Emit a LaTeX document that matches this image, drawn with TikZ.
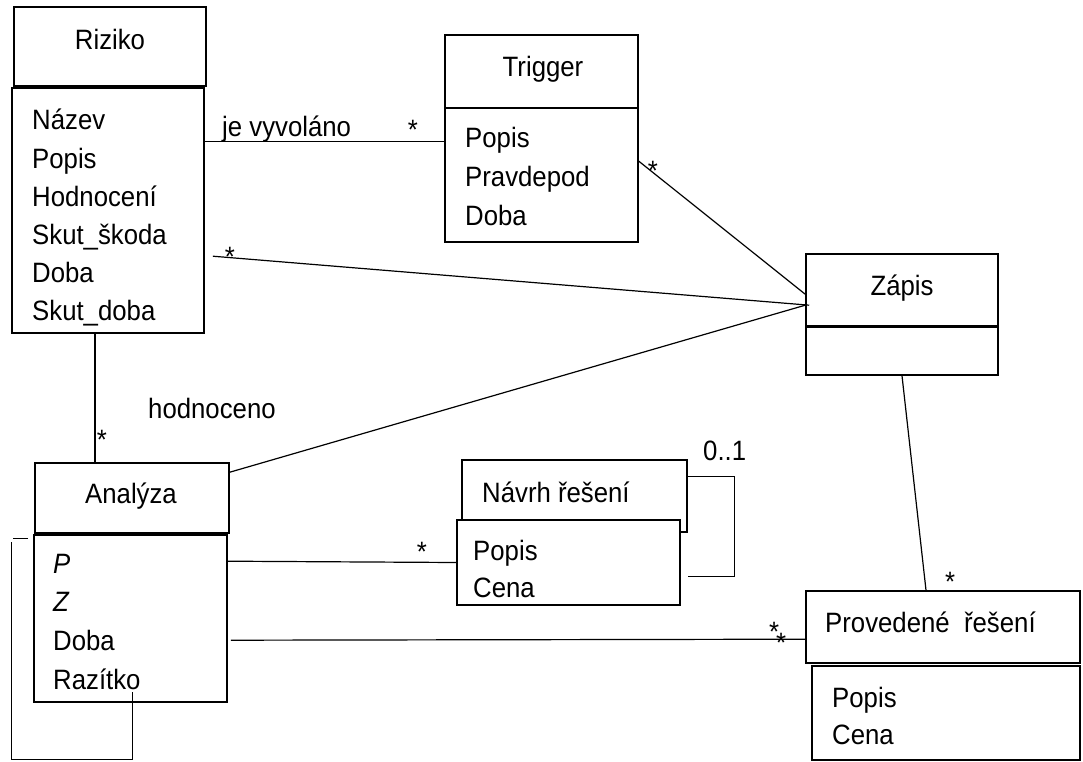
\documentclass[tikz,border=0pt]{standalone}
\usepackage{fontspec}
\setmainfont{Liberation Sans}[FakeStretch=0.92]

\begin{document}
\begin{tikzpicture}[x=1pt, y=-1pt,
    box/.style={draw, line width=1.6pt, fill=white, inner sep=0pt},
    txt/.style={font=\fontsize{28}{30}\selectfont, inner sep=0pt},
    attr/.style={txt, anchor=base west},
    mult/.style={txt, anchor=base},
    conn/.style={line width=1.2pt}]
\useasboundingbox (0,0) rectangle (1083,762);
% classes
\node[box, minimum width=192, minimum height=79] (rizH) at (110,46.5) {};
\node[box, minimum width=192, minimum height=245] (rizA) at (108,210.5) {};
\node[box, minimum width=193, minimum height=73] (trgH) at (541.5,71.5) {};
\node[box, minimum width=193, minimum height=134] (trgA) at (541.5,175) {};
\node[box, minimum width=192, minimum height=73] (zapH) at (902,290.5) {};
\node[box, minimum width=192, minimum height=48] (zapA) at (902,351) {};
\draw[line width=2.6pt] (zapA.north west) -- (zapA.north east);
\node[box, minimum width=194, minimum height=70] (anaH) at (132,498) {};
\node[box, minimum width=193, minimum height=167] (anaA) at (130.5,618.5) {};
\node[box, minimum width=225, minimum height=72] (navH) at (574.5,496) {};
\node[box, minimum width=223, minimum height=85] (navA) at (568.5,562.5) {};
\node[box, minimum width=274, minimum height=72] (provH) at (943,627) {};
\node[box, minimum width=268, minimum height=94] (provA) at (946,713) {};
% names
\node[mult] (rizT) at (110,50) {Riziko};
\node[mult] (trgT) at (543,77) {Trigger};
\node[mult] (zapT) at (902,295) {Zápis};
\node[mult] (anaT) at (131,503) {Analýza};
\node[attr] (navT) at (482,502) {Návrh řešení};
\node[attr] (provT) at (825,632) {Provedené\ \ řešení};
% attributes
\foreach \a [count=\i from 0] in {Název,Popis,Hodnocení,Skut\_škoda,Doba,Skut\_doba}
  \node[attr] (rizL\i) at (32,{130+38*\i}) {\a};
\foreach \a [count=\i from 0] in {Popis,Pravdepod,Doba}
  \node[attr] (trgL\i) at (465,{148+38.5*\i}) {\a};
\foreach \a [count=\i from 0] in {\textit{P},\textit{Z},Doba,Razítko}
  \node[attr] (anaL\i) at (53,{573+38.7*\i}) {\a};
\foreach \a [count=\i from 0] in {Popis,Cena}
  \node[attr] (navL\i) at (473,{560+37*\i}) {\a};
\foreach \a [count=\i from 0] in {Popis,Cena}
  \node[attr] (provL\i) at (832,{707+37*\i}) {\a};
% associations
\draw[conn] ([shift={(0,54)}]rizA.north east) -- ([shift={(0,34)}]trgA.north west);
\draw[conn] ([shift={(0,54)}]trgA.north east) -- ([shift={(0,41)}]zapH.north west);
\draw[conn] ([shift={(8,169)}]rizA.north east) -- ([shift={(4,52)}]zapH.north west);
\draw[conn] ([shift={(0,10)}]anaH.north east) -- ([shift={(0,52)}]zapH.north west);
\draw[conn] ([xshift=-13pt]rizA.south) -- ([xshift=-37pt]anaH.north);
\draw[conn] ([shift={(0,27)}]anaA.north east) -- (navA.west);
\draw[conn] ([shift={(3,106)}]anaA.north east) -- ([shift={(0,49)}]provH.north west);
\draw[conn] (zapA.south) -- ([xshift=-17pt]provH.north);
\draw[conn] ([shift={(0,17)}]navH.north east) -- ++(47,0) -- ++(0,100) -- ++(-47,0);
\draw[conn] ([shift={(-5,4)}]anaA.north west) -- ++(-15,0);
\draw[conn] ([shift={(-22,8)}]anaA.north west) -- ++(0,217) -- ++(121,0) -- ++(0,-67);
% labels
\node[attr] (jeL) at (222,137) {je vyvoláno};
\node[attr] (hodL) at (148,418) {hodnoceno};
\node[attr] (navM) at (703,460) {0..1};
\node[mult] (s1) at (413,139.5) {*};
\node[mult] (s2) at (653,181) {*};
\node[mult] (s3) at (230,266) {*};
\node[mult] (s4) at (102,449) {*};
\node[mult] (s5) at (422,561) {*};
\node[mult] (s6) at (774,641) {*};
\node[mult] (s7) at (781,652) {*};
\node[mult] (s8) at (950,591) {*};
\end{tikzpicture}
\end{document}
